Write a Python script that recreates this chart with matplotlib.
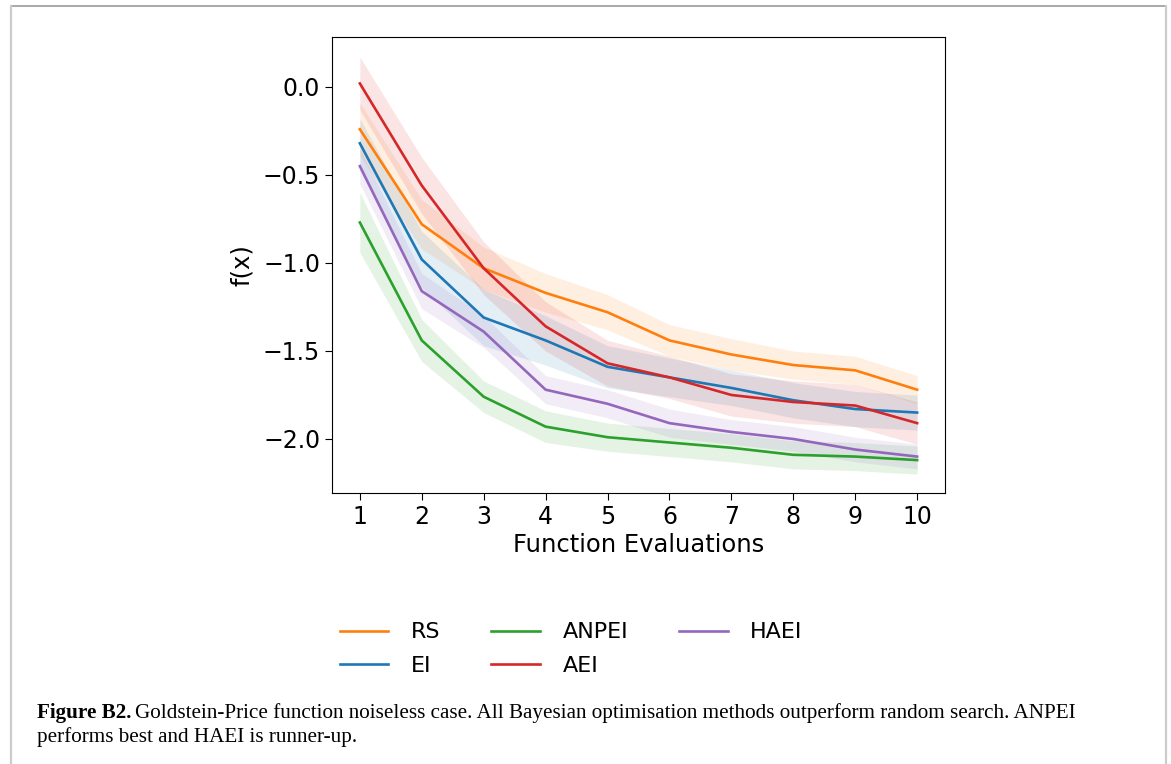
import matplotlib
matplotlib.use("Agg")
import matplotlib.pyplot as plt
from matplotlib.lines import Line2D

# function evaluations
evals = [1, 2, 3, 4, 5, 6, 7, 8, 9, 10]

# mean best f(x) per method
rs = [-0.24, -0.78, -1.03, -1.17, -1.28, -1.44, -1.52, -1.58, -1.61, -1.72]
ei = [-0.32, -0.98, -1.31, -1.44, -1.59, -1.65, -1.71, -1.78, -1.83, -1.85]
anpei = [-0.77, -1.44, -1.76, -1.93, -1.99, -2.02, -2.05, -2.09, -2.10, -2.12]
aei = [0.02, -0.56, -1.03, -1.36, -1.57, -1.65, -1.75, -1.79, -1.81, -1.91]
haei = [-0.45, -1.16, -1.39, -1.72, -1.80, -1.91, -1.96, -2.00, -2.06, -2.10]

# half widths of the shaded bands
rs_err = [0.15, 0.14, 0.12, 0.11, 0.10, 0.09, 0.09, 0.08, 0.08, 0.08]
ei_err = [0.14, 0.16, 0.16, 0.14, 0.12, 0.11, 0.10, 0.10, 0.10, 0.10]
anpei_err = [0.17, 0.12, 0.09, 0.09, 0.08, 0.08, 0.08, 0.08, 0.08, 0.08]
aei_err = [0.15, 0.16, 0.15, 0.14, 0.13, 0.12, 0.12, 0.12, 0.12, 0.12]
haei_err = [0.10, 0.10, 0.09, 0.08, 0.08, 0.08, 0.07, 0.07, 0.07, 0.07]

names = ["RS", "EI", "ANPEI", "AEI", "HAEI"]
colors = ["#ff7f0e", "#1f77b4", "#2ca02c", "#d62728", "#9467bd"]
means = [rs, ei, anpei, aei, haei]
errs = [rs_err, ei_err, anpei_err, aei_err, haei_err]

fig = plt.figure(figsize=(11.71, 7.64), dpi=100)
ax = fig.add_axes([0.2835, 0.3547, 0.5235, 0.5969])

for name,c,m,e in zip(names,colors,means,errs):
  lo = [a-b for a,b in zip(m,e)]
  hi = [a+b for a,b in zip(m,e)]
  ax.fill_between(evals, lo, hi, color=c, alpha=0.12, linewidth=0)
  ax.plot(evals, m, color=c, lw=1.9, label=name)

ax.set_xticks(evals)
ax.set_yticks([0.0, -0.5, -1.0, -1.5, -2.0])
ax.set_ylim(-2.307, 0.284)
ax.set_xlim(0.55, 10.45)
ax.tick_params(labelsize=17, length=5)
ax.set_xlabel("Function Evaluations", fontsize=17.5, labelpad=3)
ax.set_ylabel("f(x)", fontsize=17.5, labelpad=6)

ax.legend(loc="upper center", bbox_to_anchor=(0.39, -0.24), ncol=3, frameon=False,
          fontsize=16, handlelength=2.2, columnspacing=2.3, handletextpad=1.0, labelspacing=0.6)

# page frame
fig.add_artist(Line2D([11/1171, 1166/1171], [1-6/764, 1-6/764], color="#999999", lw=1.2))
fig.add_artist(Line2D([11/1171, 11/1171], [0, 1-6/764], color="#cccccc", lw=1.6))
fig.add_artist(Line2D([1166/1171, 1166/1171], [0, 1-6/764], color="#cccccc", lw=1.6))

# caption
cap_font = "Liberation Serif"
cap_size = 15.2
x0 = 37/1171
bold = fig.text(x0, 1-713/764, "Figure B2.", fontsize=cap_size, fontweight="bold", family=cap_font, va="center")
r = fig.canvas.get_renderer()
bw = bold.get_window_extent(renderer=r).width/fig.bbox.width
fig.text(x0+bw+4/1171, 1-713/764,
         "Goldstein-Price function noiseless case. All Bayesian optimisation methods outperform random search. ANPEI",
         fontsize=cap_size, family=cap_font, va="center")
fig.text(x0, 1-737/764, "performs best and HAEI is runner-up.", fontsize=cap_size, family=cap_font, va="center")

plt.savefig("out.png", dpi=100)
